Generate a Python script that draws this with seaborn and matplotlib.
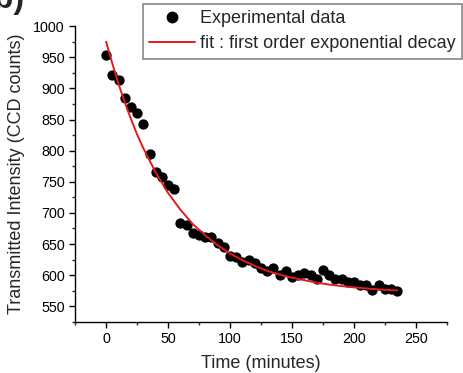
import matplotlib
matplotlib.use("Agg")
import matplotlib.pyplot as plt
from matplotlib.ticker import MultipleLocator
from matplotlib.lines import Line2D
import seaborn as sns
import pandas as pd

# Experimental data (time in minutes, transmitted intensity in CCD counts)
time_min = [0, 5, 10, 15, 20, 25, 30, 35, 40, 45, 50, 55, 60, 65, 70, 75,
            80, 85, 90, 95, 100, 105, 110, 115, 120, 125, 130, 135, 140, 145,
            150, 155, 160, 165, 170, 175, 180, 185, 190, 195, 200, 205, 210,
            215, 220, 225, 230, 235]
intensity = [953, 922, 914, 885, 870, 861, 842, 795, 765, 758, 745, 738, 684,
             680, 668, 664, 662, 661, 651, 646, 631, 629, 621, 624, 620, 611,
             607, 611, 601, 607, 597, 601, 603, 601, 594, 608, 601, 594, 594,
             589, 589, 585, 585, 576, 584, 578, 578, 574]

# Fitted curve values
fit_time = [0, 5, 10, 15, 20, 25, 30, 40, 50, 60, 70, 80, 90, 100, 110, 120,
            130, 140, 150, 160, 170, 180, 190, 200, 210, 220, 235]
fit_val = [975, 940, 907, 878, 851, 826, 804, 765, 732, 705, 682, 664, 648,
           635, 624, 615, 607, 601, 596, 592, 588, 585, 582.5, 580.4, 578.7,
           577.2, 575.5]

x_ticks = [0, 50, 100, 150, 200, 250]
y_ticks = [550, 600, 650, 700, 750, 800, 850, 900, 950, 1000]

sns.set_style("ticks")
plt.rcParams['font.family'] = ['Liberation Sans', 'DejaVu Sans']

df = pd.DataFrame({"t": time_min, "I": intensity})
dfit = pd.DataFrame({"t": fit_time, "I": fit_val})

fig = plt.figure(figsize=(4.64, 3.73), dpi=100)
ax = fig.add_axes([0.162, 0.137, 0.801, 0.793])

sns.scatterplot(data=df, x="t", y="I", ax=ax, color="black", s=55,
                edgecolor="black", linewidth=0, zorder=2, legend=False)
sns.lineplot(data=dfit, x="t", y="I", ax=ax, color="#e41a1c", linewidth=1.4,
             zorder=3, legend=False)

ax.set_xlim(-25, 275)
ax.set_ylim(525, 1000)
ax.set_xticks(x_ticks)
ax.set_yticks(y_ticks)
ax.xaxis.set_minor_locator(MultipleLocator(25))
ax.yaxis.set_minor_locator(MultipleLocator(25))
ax.tick_params(axis="both", which="major", direction="out", length=4.5,
               width=1, labelsize=10.3, colors="black", pad=3)
ax.tick_params(axis="both", which="minor", direction="out", length=2.5,
               width=1)
for s in ["top", "right"]:
    ax.spines[s].set_visible(False)
for s in ["left", "bottom"]:
    ax.spines[s].set_linewidth(1)
    ax.spines[s].set_color("black")

ax.set_xlabel("Time (minutes)", fontsize=13, labelpad=6)
ax.set_ylabel("Transmitted Intensity (CCD counts)", fontsize=13, labelpad=6)

handles = [
    Line2D([], [], marker="o", color="black", linestyle="none", markersize=7.5),
    Line2D([], [], color="#e41a1c", linewidth=1.4),
]
labels = ["Experimental data", "fit : first order exponential decay"]
leg = fig.legend(handles, labels, loc="upper right",
                 bbox_to_anchor=(462 / 464, 1 - 4 / 373),
                 bbox_transform=fig.transFigure,
                 fontsize=13, frameon=True,
                 fancybox=False, edgecolor="#888888", framealpha=1,
                 borderpad=0.35, handlelength=2.5, handletextpad=0.3,
                 labelspacing=0.45, borderaxespad=0.0)
leg.get_frame().set_linewidth(1.2)

fig.text(-0.035, 1.0, "(b)", fontsize=23, fontweight="bold", va="center",
         ha="left")

fig.savefig("out.png", dpi=100)
